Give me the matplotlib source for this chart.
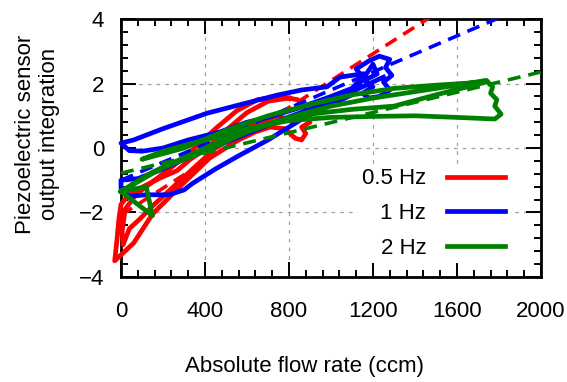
import matplotlib
matplotlib.use('Agg')
import matplotlib.pyplot as plt
from matplotlib.ticker import MultipleLocator
import numpy as np

plt.rcParams['font.family'] = ['Liberation Sans', 'DejaVu Sans']

# 0.5 Hz loop (flow rate ccm, integration)
red_x = [800, 700, 600, 500, 410, 330, 267, 180, 105, 30, 0, -10, -20, -30,
         60, 150, 280, 424, 560, 640, 710, 780, 830, 860, 880, 860, 900, 880,
         840, 760, 650, 550, 450, 350, 250, 150, 70, 20, 5, 10, 40, 90, 150,
         250, 350, 450, 550, 650, 750, 820]
red_y = [1.55, 1.45, 1.1, 0.55, 0.0, -0.35, -0.7, -0.95, -1.2, -1.5, -1.75, -2.2, -2.9, -3.5,
         -2.95, -2.05, -1.2, -0.3, 0.25, 0.5, 0.65, 0.6, 0.3, 0.25, 0.45, 0.65, 0.8, 1.2,
         1.5, 1.6, 1.5, 1.15, 0.6, 0.0, -0.55, -1.05, -1.45, -1.9, -2.6, -3.0, -2.5, -2.2, -1.8,
         -1.2, -0.6, 0.0, 0.4, 0.8, 1.0, 0.8]

# 1 Hz loop
blue_x = [1150, 1043, 981, 860, 743, 600, 410, 200, 60, 0, 40, 100, 200, 320, 471,
          600, 710, 850, 1000, 1100, 1150, 1120, 1180, 1230, 1280, 1260, 1290, 1250,
          1280, 1230, 1180, 1150, 1200, 1160, 1220, 1200, 1100, 1000, 900, 800, 700,
          552, 450, 340, 300, 230, 120, 40, 0, 0, 80, 180, 300, 450, 600, 750, 900,
          1050, 1150, 1250]
blue_y = [2.3, 2.2, 1.9, 1.8, 1.64, 1.4, 1.08, 0.6, 0.25, 0.15, -0.08, -0.1, 0.0, 0.25, 0.5,
          0.8, 0.97, 1.25, 1.6, 1.85, 2.2, 2.45, 2.7, 2.85, 2.75, 2.5, 2.25, 2.05,
          1.8, 1.6, 1.55, 1.7, 1.9, 2.1, 2.3, 2.6, 1.65, 1.35, 1.05, 0.65, 0.25,
          -0.27, -0.65, -1.1, -1.3, -1.45, -1.45, -1.5, -1.25, -1.0, -0.95, -0.7, -0.35, 0.05, 0.45, 0.85, 1.2,
          1.6, 1.9, 2.2]

# 2 Hz loop
green_x = [0, 150, 120, 0, 200, 400, 600, 800, 1000, 1200, 1400, 1600, 1740,
           1770, 1760, 1790, 1780, 1810, 1780, 1600, 1400, 1200, 1000, 800, 600,
           400, 200, 100, 300, 500, 700, 900, 1100, 1300, 1500, 1740, 1500, 1300,
           1100, 900, 700, 500, 300, 150, 60, 0]
green_y = [-1.35, -2.1, -1.2, -1.35, -0.6, -0.1, 0.5, 0.95, 1.3, 1.55, 1.75, 1.95, 2.1,
           1.9, 1.7, 1.5, 1.3, 1.05, 0.9, 0.95, 1.0, 0.98, 0.95, 0.85, 0.6,
           0.25, -0.1, -0.35, 0.0, 0.55, 1.0, 1.35, 1.65, 1.85, 1.95, 2.05, 1.65, 1.3,
           1.2, 1.05, 0.75, 0.3, -0.3, -0.75, -1.1, -1.35]

# linear fits: intercept, slope
fit_a = [-2.08, -1.0, -0.78]
fit_b = [0.00417, 0.0028, 0.00157]

labels = ['0.5 Hz', '1 Hz', '2 Hz']
colors = ['#ff0000', '#0000ff', '#008000']

fig = plt.figure(figsize=(5.67, 3.82), dpi=100)
ax = fig.add_axes([0.2134, 0.275, 0.7407, 0.675])

xs = [red_x, blue_x, green_x]
ys = [red_y, blue_y, green_y]
xf = np.array([0, 2000])
handles = []
for i in range(3):
    h, = ax.plot(xs[i], ys[i], color=colors[i], lw=3.4, clip_on=False,
                 solid_joinstyle='round', label=labels[i], zorder=3 + i)
    handles.append(h)
    ax.plot(xf, fit_a[i] + fit_b[i] * xf, color=colors[i], lw=2.6,
            dashes=(3.6, 2.2), zorder=3 + i)

ax.set_xlim(0, 2000)
ax.set_ylim(-4, 4)
ax.xaxis.set_major_locator(MultipleLocator(400))
ax.xaxis.set_minor_locator(MultipleLocator(80))
ax.yaxis.set_major_locator(MultipleLocator(2))
ax.yaxis.set_minor_locator(MultipleLocator(0.4))
ax.tick_params(which='both', direction='in', top=True, right=True, width=1.4,
               labelsize=16)
ax.tick_params(axis='x', which='major', length=11, pad=17)
ax.tick_params(axis='y', which='major', length=11, pad=12)
ax.tick_params(which='minor', length=5)
for s in ax.spines.values():
    s.set_linewidth(2)
ax.grid(True, which='major', color='#a0a0a0', lw=0.9, dashes=(3, 4))

ax.set_xlabel('Absolute flow rate (ccm)', fontsize=16, va='center')
ax.xaxis.set_label_coords(0.438, -0.349)
ax.set_ylabel('Piezoelectric sensor\noutput integration', fontsize=16, va='center')
ax.yaxis.set_label_coords(-0.198, 0.554)

leg = ax.legend(handles=handles, loc='center right', bbox_to_anchor=(0.952, 0.245),
                fontsize=16, markerfirst=False, handlelength=2.6, handletextpad=0.95,
                labelspacing=0.62, borderpad=0.2, frameon=True, fancybox=False,
                framealpha=1, edgecolor='none')
leg.set_zorder(10)

plt.savefig('out.png', dpi=100)
plt.close(fig)
